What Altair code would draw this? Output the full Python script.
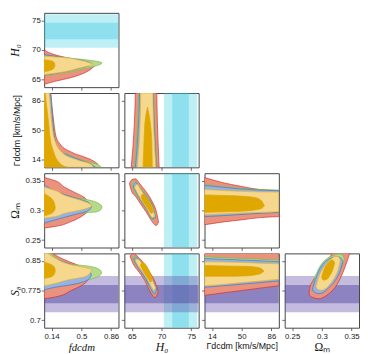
import altair as alt
import pandas as pd

# ---------------- axes ----------------
F_DOMAIN = [0.05, 0.95]
H0_DOMAIN = [63.75, 76.25]
G_DOMAIN = [5, 95]
OM_DOMAIN = [0.2375, 0.3625]
S8_DOMAIN = [0.68125, 0.86875]
F_TICKS = [0.14, 0.5, 0.86]
H0_TICKS = [65, 70, 75]
G_TICKS = [14, 50, 86]
OM_TICKS = [0.25, 0.3, 0.35]
S8_TICKS = [0.7, 0.775, 0.85]

# external priors (1 sigma / 2 sigma bands)
H0_1SIG = [71.8, 74.6]
H0_2SIG = [70.4, 76.0]
S8_1SIG = [0.743, 0.789]
S8_2SIG = [0.720, 0.812]

# ---------------- contours ----------------
# row 1: H0 vs f  (H0 values, right edge in f)
P11_RED_H0 = [64.24, 64.73, 65.38, 66.10, 67.07, 67.50, 68.00, 68.60, 69.20, 70.00]
P11_RED_F = [0.05, 0.18, 0.38, 0.53, 0.64, 0.67, 0.55, 0.36, 0.18, 0.05]
P11_GRN_H0 = [65.70, 66.19, 66.85, 67.42, 67.82, 68.07, 68.39, 68.72, 69.18]
P11_GRN_F = [0.05, 0.30, 0.53, 0.70, 0.75, 0.70, 0.53, 0.30, 0.05]
P11_BLU_H0 = [65.78, 66.30, 66.90, 67.40, 67.70, 68.00, 68.40, 68.75, 69.22]
P11_BLU_F = [0.05, 0.28, 0.47, 0.60, 0.63, 0.58, 0.45, 0.28, 0.05]
P11_GL_H0 = [65.85, 66.36, 66.93, 67.30, 67.61, 67.95, 68.31, 68.72, 68.95]
P11_GL_F = [0.05, 0.30, 0.47, 0.58, 0.64, 0.58, 0.47, 0.30, 0.05]
P11_GD_H0 = [66.36, 66.60, 67.00, 67.45, 67.90, 68.20, 68.36]
P11_GD_F = [0.05, 0.13, 0.17, 0.18, 0.17, 0.13, 0.05]

# row 2: Gamma vs f (f values, upper edge in Gamma)
P21_RED_F = [0.05, 0.127, 0.146, 0.192, 0.242, 0.376, 0.529, 0.644, 0.700, 0.715]
P21_RED_G = [95, 95, 77.6, 42.9, 33.3, 23.6, 17.8, 12.8, 8.5, 5]
P21_GRN_F = [0.05, 0.125, 0.150, 0.176, 0.222, 0.376, 0.563, 0.700, 0.745]
P21_GRN_G = [95, 95, 65, 42.9, 27.5, 18.9, 12.0, 8.2, 5]
P21_BLU_F = [0.05, 0.122, 0.145, 0.172, 0.220, 0.376, 0.560, 0.640, 0.670]
P21_BLU_G = [95, 95, 72, 42.9, 26.5, 18.0, 11.2, 7.5, 5]
P21_GL_F = [0.05, 0.107, 0.138, 0.165, 0.261, 0.452, 0.624, 0.645]
P21_GL_G = [95, 95, 62.2, 42.9, 23.6, 13.9, 8.2, 5]
P21_GD_F = [0.05, 0.061, 0.077, 0.100, 0.119, 0.165, 0.261, 0.337]
P21_GD_G = [95, 95, 81.5, 62.2, 42.9, 23.6, 8.2, 5]

# row 2: Gamma vs H0 (Gamma values, left/right edges in H0)
P22_G = [5, 30, 60, 95]
P22_RED_LO = [64.9, 65.2, 65.45, 65.6]
P22_RED_HI = [69.6, 69.45, 69.3, 69.2]
P22_GRN_LO = [65.45, 65.75, 66.0, 66.15]
P22_GRN_HI = [69.25, 69.05, 68.85, 68.7]
P22_BLU_LO = [65.6, 65.9, 66.15, 66.3]
P22_BLU_HI = [69.15, 68.95, 68.75, 68.6]
P22_GL_LO = [65.9, 66.2, 66.4, 66.5]
P22_GL_HI = [69.05, 68.85, 68.65, 68.55]
P22_GD_G = [5, 25, 45, 65, 78]
P22_GD_LO = [66.9, 67.0, 67.1, 67.3, 67.65]
P22_GD_HI = [68.45, 68.4, 68.3, 68.0, 67.65]

# row 3: Om vs f (Om values, right edge in f)
P31_RED_OM = [0.2704, 0.2730, 0.2812, 0.2923, 0.3000, 0.3060, 0.3140, 0.3224, 0.3306, 0.3388, 0.3498, 0.3553]
P31_RED_F = [0.05, 0.184, 0.376, 0.529, 0.590, 0.606, 0.585, 0.529, 0.414, 0.299, 0.184, 0.05]
P31_GRN_OM = [0.2812, 0.2868, 0.2950, 0.2977, 0.3020, 0.3059, 0.3110, 0.3170, 0.3224, 0.3300, 0.3416]
P31_GRN_F = [0.05, 0.184, 0.460, 0.690, 0.740, 0.750, 0.720, 0.606, 0.376, 0.200, 0.05]
P31_BLU_OM = [0.2786, 0.2840, 0.2930, 0.2990, 0.3060, 0.3130, 0.3200, 0.3300, 0.3430]
P31_BLU_F = [0.05, 0.184, 0.420, 0.580, 0.620, 0.590, 0.450, 0.220, 0.05]
P31_GL_OM = [0.2868, 0.2895, 0.2950, 0.3005, 0.3076, 0.3170, 0.3252, 0.3334, 0.3388]
P31_GL_F = [0.05, 0.184, 0.299, 0.490, 0.626, 0.490, 0.299, 0.184, 0.05]
P31_GD_OM = [0.2905, 0.2950, 0.3000, 0.3033, 0.3100, 0.3200, 0.3285]
P31_GD_F = [0.05, 0.140, 0.175, 0.184, 0.178, 0.140, 0.05]

# row 3: Om vs H0 (H0 values, lower/upper Om)
P32_RED_H0 = [64.6, 65.0, 65.6, 66.4, 67.5, 68.5, 69.1, 69.5]
P32_RED_LO = [0.3450, 0.3315, 0.3240, 0.3120, 0.2960, 0.2800, 0.2745, 0.2805]
P32_RED_HI = [0.3450, 0.3515, 0.3530, 0.3440, 0.3300, 0.3135, 0.2990, 0.2805]
P32_GRN_H0 = [65.0, 65.4, 66.4, 67.5, 68.5, 69.1]
P32_GRN_LO = [0.342, 0.332, 0.317, 0.301, 0.2845, 0.287]
P32_GRN_HI = [0.342, 0.349, 0.339, 0.325, 0.309, 0.287]
P32_BLU_H0 = [65.2, 65.6, 66.4, 67.5, 68.5, 69.0]
P32_BLU_LO = [0.341, 0.332, 0.318, 0.302, 0.286, 0.288]
P32_BLU_HI = [0.341, 0.347, 0.337, 0.323, 0.307, 0.288]
P32_GL_H0 = [65.45, 65.9, 66.5, 67.5, 68.5, 68.9]
P32_GL_LO = [0.338, 0.330, 0.319, 0.304, 0.288, 0.290]
P32_GL_HI = [0.338, 0.344, 0.335, 0.3205, 0.304, 0.290]
P32_GD_H0 = [66.55, 66.9, 67.3, 67.8, 68.3, 68.6]
P32_GD_LO = [0.323, 0.315, 0.309, 0.302, 0.295, 0.297]
P32_GD_HI = [0.323, 0.328, 0.324, 0.317, 0.308, 0.297]

# row 3: Om vs Gamma (Gamma values, lower/upper Om)
P33_G = [5, 26, 49, 72, 95]
P33_RED_LO = [0.2758, 0.2802, 0.284, 0.2878, 0.2895]
P33_RED_HI = [0.3553, 0.347, 0.3405, 0.335, 0.3334]
P33_GRN_LO = [0.2912, 0.2925, 0.294, 0.296, 0.2978]
P33_GRN_HI = [0.3432, 0.340, 0.337, 0.335, 0.334]
P33_BLU_LO = [0.2895, 0.291, 0.293, 0.295, 0.2965]
P33_BLU_HI = [0.342, 0.339, 0.336, 0.334, 0.333]
P33_GL_LO = [0.2929, 0.294, 0.2955, 0.2965, 0.2978]
P33_GL_HI = [0.335, 0.3335, 0.332, 0.331, 0.3307]
P33_GD_G = [5, 30, 55, 68, 74, 77.5]
P33_GD_LO = [0.2965, 0.2975, 0.299, 0.301, 0.303, 0.308]
P33_GD_HI = [0.326, 0.325, 0.3235, 0.321, 0.316, 0.308]

# row 4: S8 vs f (S8 values, right edge in f)
P41_RED_S8 = [0.7546, 0.7587, 0.7749, 0.7912, 0.8035, 0.8150, 0.8238, 0.8360, 0.8524, 0.8646, 0.8800]
P41_RED_F = [0.05, 0.184, 0.376, 0.530, 0.586, 0.600, 0.590, 0.490, 0.300, 0.184, 0.100]
P41_GRN_S8 = [0.782, 0.786, 0.795, 0.803, 0.810, 0.820, 0.828, 0.836, 0.842, 0.855, 0.880]
P41_GRN_F = [0.05, 0.184, 0.40, 0.60, 0.70, 0.745, 0.72, 0.60, 0.376, 0.22, 0.08]
P41_BLU_S8 = [0.7766, 0.7832, 0.7895, 0.797, 0.806, 0.815, 0.826, 0.838, 0.852, 0.880]
P41_BLU_F = [0.05, 0.184, 0.376, 0.53, 0.60, 0.62, 0.58, 0.42, 0.22, 0.06]
P41_GL_S8 = [0.787, 0.793, 0.8035, 0.809, 0.818, 0.828, 0.832, 0.8401, 0.8565, 0.880]
P41_GL_F = [0.05, 0.184, 0.376, 0.529, 0.600, 0.624, 0.567, 0.376, 0.184, 0.05]
P41_GD_S8 = [0.806, 0.810, 0.818, 0.8255, 0.833, 0.840, 0.847]
P41_GD_F = [0.05, 0.140, 0.176, 0.184, 0.176, 0.140, 0.05]

# row 4: S8 vs H0
P42_RED_H0 = [64.7, 65.2, 66.2, 67.2, 68.2, 68.9, 69.45]
P42_RED_LO = [0.862, 0.843, 0.822, 0.800, 0.769, 0.757, 0.772]
P42_RED_HI = [0.862, 0.868, 0.858, 0.840, 0.817, 0.797, 0.772]
P42_GRN_H0 = [65.1, 65.6, 66.4, 67.3, 68.2, 68.8, 69.2]
P42_GRN_LO = [0.858, 0.842, 0.825, 0.805, 0.778, 0.766, 0.776]
P42_GRN_HI = [0.858, 0.861, 0.851, 0.834, 0.812, 0.793, 0.776]
P42_BLU_H0 = [65.3, 65.8, 66.5, 67.4, 68.3, 68.85, 69.15]
P42_BLU_LO = [0.856, 0.839, 0.823, 0.803, 0.777, 0.766, 0.779]
P42_BLU_HI = [0.856, 0.858, 0.848, 0.831, 0.809, 0.791, 0.779]
P42_GL_H0 = [65.55, 66.0, 66.7, 67.5, 68.3, 68.75, 69.0]
P42_GL_LO = [0.852, 0.839, 0.825, 0.807, 0.785, 0.775, 0.782]
P42_GL_HI = [0.852, 0.854, 0.844, 0.828, 0.807, 0.791, 0.782]
P42_GD_H0 = [66.45, 66.8, 67.3, 67.8, 68.2, 68.45]
P42_GD_LO = [0.838, 0.828, 0.815, 0.804, 0.796, 0.804]
P42_GD_HI = [0.838, 0.847, 0.841, 0.829, 0.815, 0.804]

# row 4: S8 vs Gamma
P43_G = [5, 27, 50, 72, 95]
P43_RED_LO = [0.7627, 0.769, 0.775, 0.781, 0.7871]
P43_RED_HI = [0.88, 0.88, 0.88, 0.88, 0.88]
P43_GRN_LO = [0.786, 0.790, 0.794, 0.798, 0.802]
P43_GRN_HI = [0.8605, 0.858, 0.856, 0.854, 0.852]
P43_BLU_LO = [0.7832, 0.787, 0.791, 0.795, 0.7993]
P43_BLU_HI = [0.856, 0.854, 0.852, 0.850, 0.848]
P43_GL_LO = [0.787, 0.7905, 0.795, 0.799, 0.8035]
P43_GL_HI = [0.8475, 0.847, 0.846, 0.844, 0.8426]
P43_GD_G = [5, 30, 55, 68, 74, 77]
P43_GD_LO = [0.811, 0.811, 0.812, 0.815, 0.819, 0.824]
P43_GD_HI = [0.838, 0.837, 0.836, 0.834, 0.830, 0.824]

# row 4: S8 vs Om
P44_RED_OM = [0.2785, 0.2800, 0.2847, 0.2955, 0.3007, 0.312, 0.3223, 0.3384, 0.348]
P44_RED_LO = [0.768, 0.762, 0.7575, 0.754, 0.7565, 0.767, 0.783, 0.832, 0.875]
P44_RED_HI = [0.768, 0.784, 0.7993, 0.822, 0.8401, 0.857, 0.875, 0.875, 0.875]
P44_GRN_OM = [0.2850, 0.287, 0.292, 0.300, 0.310, 0.320, 0.328, 0.334, 0.3375]
P44_GRN_LO = [0.779, 0.773, 0.770, 0.773, 0.784, 0.799, 0.816, 0.837, 0.856]
P44_GRN_HI = [0.779, 0.800, 0.822, 0.843, 0.857, 0.864, 0.867, 0.866, 0.856]
P44_BLU_OM = [0.2835, 0.289, 0.294, 0.301, 0.310, 0.320, 0.327, 0.332, 0.335]
P44_BLU_LO = [0.776, 0.770, 0.767, 0.769, 0.780, 0.795, 0.812, 0.830, 0.848]
P44_BLU_HI = [0.776, 0.803, 0.822, 0.840, 0.853, 0.859, 0.860, 0.857, 0.848]
P44_GL_OM = [0.290, 0.294, 0.300, 0.308, 0.316, 0.323, 0.328, 0.331]
P44_GL_LO = [0.785, 0.777, 0.776, 0.782, 0.795, 0.812, 0.830, 0.850]
P44_GL_HI = [0.785, 0.806, 0.826, 0.843, 0.855, 0.861, 0.860, 0.850]
P44_GD_OM = [0.2995, 0.303, 0.308, 0.313, 0.318, 0.3215]
P44_GD_LO = [0.808, 0.801, 0.803, 0.812, 0.826, 0.845]
P44_GD_HI = [0.808, 0.826, 0.840, 0.849, 0.852, 0.845]

# ---------------- styling ----------------
RED = ("#E9937E", "#D62C2C")
GREEN = ("#B6D98C", "#74BD4C")
BLUE = ("#93B3E2", "#4573C4")
GOLD2 = ("#F6D78E", "#ECB22F")
GOLD1 = ("#E0A700", "#E0A700")
CYAN_BANDS = [(H0_2SIG, "#23CADE", 0.3), (H0_1SIG, "#3AC7E1", 0.35)]
PURPLE_BANDS = [(S8_2SIG, "#6958AC", 0.4), (S8_1SIG, "#554AA2", 0.5)]

VARS = {
    "f": dict(title="fdcdm", domain=F_DOMAIN, ticks=F_TICKS, font="Liberation Serif", size=11, style="italic"),
    "H0": dict(title="H₀", domain=H0_DOMAIN, ticks=H0_TICKS, font="Liberation Serif", size=12, style="italic"),
    "G": dict(title="Γdcdm [km/s/Mpc]", domain=G_DOMAIN, ticks=G_TICKS, font="Liberation Sans", size=9, style="normal"),
    "Om": dict(title="Ωₘ", domain=OM_DOMAIN, ticks=OM_TICKS, font="Liberation Serif", size=12, style="normal"),
    "S8": dict(title="S₈", domain=S8_DOMAIN, ticks=S8_TICKS, font="Liberation Serif", size=12, style="italic"),
}
W, H = 76, 76


def make_axis(v, show, which):
    kw = dict(values=v["ticks"], format=".3~g", tickSize=3, tickWidth=0.8, tickColor="#444",
              domain=False, grid=False, labelFont="Liberation Sans", labelFontSize=8,
              labelColor="#222", labelPadding=1)
    if not show:
        return alt.Axis(labels=False, title=None, **kw)
    kw.update(title=v["title"], titleFont=v["font"], titleFontSize=v["size"],
              titleFontStyle=v["style"], titleFontWeight="normal", titleColor="#111", titlePadding=1)
    if which == "y":
        kw.update(minExtent=22, maxExtent=22)
    else:
        kw.update(labelPadding=2)
    return alt.Axis(**kw)


def panel(xv, yv, contours, xbands=(), ybands=(), show_x=False, show_y=False):
    X, Y = VARS[xv], VARS[yv]
    xs = alt.Scale(domain=X["domain"], nice=False, zero=False)
    ys = alt.Scale(domain=Y["domain"], nice=False, zero=False)
    xa = make_axis(X, show_x, "x")
    ya = make_axis(Y, show_y, "y")
    layers = []
    for rng, col, op in xbands:
        df = pd.DataFrame({"lo": [rng[0]], "hi": [rng[1]], "a": [Y["domain"][0]], "b": [Y["domain"][1]]})
        layers.append(alt.Chart(df).mark_rect(color=col, opacity=op, clip=True).encode(
            x=alt.X("lo:Q", scale=xs, axis=xa), x2="hi:Q",
            y=alt.Y("a:Q", scale=ys, axis=ya), y2="b:Q"))
    for rng, col, op in ybands:
        df = pd.DataFrame({"lo": [rng[0]], "hi": [rng[1]], "a": [X["domain"][0]], "b": [X["domain"][1]]})
        layers.append(alt.Chart(df).mark_rect(color=col, opacity=op, clip=True).encode(
            y=alt.Y("lo:Q", scale=ys, axis=ya), y2="hi:Q",
            x=alt.X("a:Q", scale=xs, axis=xa), x2="b:Q"))
    for orient, c, lo, hi, (fill, stroke) in contours:
        n = len(c)
        lo_vals = lo if isinstance(lo, list) else [lo] * n
        df = pd.DataFrame({"c": c, "lo": lo_vals, "hi": hi})
        mk = alt.Chart(df).mark_area(
            orient="vertical" if orient == "v" else "horizontal",
            interpolate="monotone", fill=fill, stroke=stroke, strokeWidth=0.7,
            fillOpacity=1, clip=True)
        if orient == "v":
            ch = mk.encode(x=alt.X("c:Q", scale=xs, axis=xa),
                           y=alt.Y("lo:Q", scale=ys, axis=ya, stack=None), y2="hi:Q")
        else:
            ch = mk.encode(y=alt.Y("c:Q", scale=ys, axis=ya),
                           x=alt.X("lo:Q", scale=xs, axis=xa, stack=None), x2="hi:Q")
        layers.append(ch)
    return alt.layer(*layers).properties(width=W, height=H)


f0 = F_DOMAIN[0]
g0 = G_DOMAIN[0]

p11 = panel("f", "H0", [
    ("h", P11_RED_H0, f0, P11_RED_F, RED),
    ("h", P11_GRN_H0, f0, P11_GRN_F, GREEN),
    ("h", P11_BLU_H0, f0, P11_BLU_F, BLUE),
    ("h", P11_GL_H0, f0, P11_GL_F, GOLD2),
    ("h", P11_GD_H0, f0, P11_GD_F, GOLD1),
], ybands=CYAN_BANDS, show_y=True)

p21 = panel("f", "G", [
    ("v", P21_RED_F, g0, P21_RED_G, RED),
    ("v", P21_GRN_F, g0, P21_GRN_G, GREEN),
    ("v", P21_BLU_F, g0, P21_BLU_G, BLUE),
    ("v", P21_GL_F, g0, P21_GL_G, GOLD2),
    ("v", P21_GD_F, g0, P21_GD_G, GOLD1),
], show_y=True)

p22 = panel("H0", "G", [
    ("h", P22_G, P22_RED_LO, P22_RED_HI, RED),
    ("h", P22_G, P22_GRN_LO, P22_GRN_HI, GREEN),
    ("h", P22_G, P22_BLU_LO, P22_BLU_HI, BLUE),
    ("h", P22_G, P22_GL_LO, P22_GL_HI, GOLD2),
    ("h", P22_GD_G, P22_GD_LO, P22_GD_HI, GOLD1),
], xbands=CYAN_BANDS)

p31 = panel("f", "Om", [
    ("h", P31_RED_OM, f0, P31_RED_F, RED),
    ("h", P31_GRN_OM, f0, P31_GRN_F, GREEN),
    ("h", P31_BLU_OM, f0, P31_BLU_F, BLUE),
    ("h", P31_GL_OM, f0, P31_GL_F, GOLD2),
    ("h", P31_GD_OM, f0, P31_GD_F, GOLD1),
], show_y=True)

p32 = panel("H0", "Om", [
    ("v", P32_RED_H0, P32_RED_LO, P32_RED_HI, RED),
    ("v", P32_GRN_H0, P32_GRN_LO, P32_GRN_HI, GREEN),
    ("v", P32_BLU_H0, P32_BLU_LO, P32_BLU_HI, BLUE),
    ("v", P32_GL_H0, P32_GL_LO, P32_GL_HI, GOLD2),
    ("v", P32_GD_H0, P32_GD_LO, P32_GD_HI, GOLD1),
], xbands=CYAN_BANDS)

p33 = panel("G", "Om", [
    ("v", P33_G, P33_RED_LO, P33_RED_HI, RED),
    ("v", P33_G, P33_GRN_LO, P33_GRN_HI, GREEN),
    ("v", P33_G, P33_BLU_LO, P33_BLU_HI, BLUE),
    ("v", P33_G, P33_GL_LO, P33_GL_HI, GOLD2),
    ("v", P33_GD_G, P33_GD_LO, P33_GD_HI, GOLD1),
])

p41 = panel("f", "S8", [
    ("h", P41_RED_S8, f0, P41_RED_F, RED),
    ("h", P41_GRN_S8, f0, P41_GRN_F, GREEN),
    ("h", P41_BLU_S8, f0, P41_BLU_F, BLUE),
    ("h", P41_GL_S8, f0, P41_GL_F, GOLD2),
    ("h", P41_GD_S8, f0, P41_GD_F, GOLD1),
], ybands=PURPLE_BANDS, show_x=True, show_y=True)

p42 = panel("H0", "S8", [
    ("v", P42_RED_H0, P42_RED_LO, P42_RED_HI, RED),
    ("v", P42_GRN_H0, P42_GRN_LO, P42_GRN_HI, GREEN),
    ("v", P42_BLU_H0, P42_BLU_LO, P42_BLU_HI, BLUE),
    ("v", P42_GL_H0, P42_GL_LO, P42_GL_HI, GOLD2),
    ("v", P42_GD_H0, P42_GD_LO, P42_GD_HI, GOLD1),
], xbands=CYAN_BANDS, ybands=PURPLE_BANDS, show_x=True)

p43 = panel("G", "S8", [
    ("v", P43_G, P43_RED_LO, P43_RED_HI, RED),
    ("v", P43_G, P43_GRN_LO, P43_GRN_HI, GREEN),
    ("v", P43_G, P43_BLU_LO, P43_BLU_HI, BLUE),
    ("v", P43_G, P43_GL_LO, P43_GL_HI, GOLD2),
    ("v", P43_GD_G, P43_GD_LO, P43_GD_HI, GOLD1),
], ybands=PURPLE_BANDS, show_x=True)

p44 = panel("Om", "S8", [
    ("v", P44_RED_OM, P44_RED_LO, P44_RED_HI, RED),
    ("v", P44_GRN_OM, P44_GRN_LO, P44_GRN_HI, GREEN),
    ("v", P44_BLU_OM, P44_BLU_LO, P44_BLU_HI, BLUE),
    ("v", P44_GL_OM, P44_GL_LO, P44_GL_HI, GOLD2),
    ("v", P44_GD_OM, P44_GD_LO, P44_GD_HI, GOLD1),
], ybands=PURPLE_BANDS, show_x=True)

row1 = alt.hconcat(p11, spacing=1)
row2 = alt.hconcat(p21, p22, spacing=1)
row3 = alt.hconcat(p31, p32, p33, spacing=1)
row4 = alt.hconcat(p41, p42, p43, p44, spacing=1)

chart = (
    alt.vconcat(row1, row2, row3, row4, spacing=1)
    .properties(padding={"left": 0, "top": 0, "right": 0, "bottom": 0}, background="white")
    .configure_view(stroke="#444", strokeWidth=1)
)

chart.save("out.html", embed_options={"renderer": "svg", "actions": False})
